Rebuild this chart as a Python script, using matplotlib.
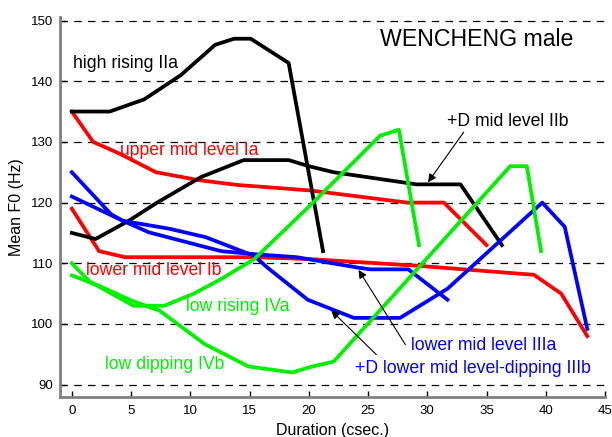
import matplotlib
matplotlib.use("Agg")
import matplotlib.pyplot as plt

plt.rcParams['font.family'] = ['Liberation Sans', 'DejaVu Sans']

# ---- data ----
Ia_x = [0, 1.8, 4.1, 7.1, 10.7, 14.0, 20.1, 28.3, 31.4, 35.0]
Ia_y = [135, 130, 128, 125, 123.7, 122.9, 122, 120, 120, 113]

Ib_x = [0, 2.3, 4.5, 15.4, 20.0, 29.1, 39.0, 41.3, 43.5]
Ib_y = [119, 112, 111, 111, 110.7, 109.6, 108.1, 105, 98]

IIa_x = [0, 3.2, 6.1, 9.2, 12.1, 13.7, 15.1, 18.3, 21.2]
IIa_y = [135, 135, 137, 141, 146, 147, 147, 143, 112]

IIb_x = [0, 2.0, 4.8, 7.2, 10.9, 14.5, 18.3, 20.0, 22.1, 29.1, 32.8, 36.3]
IIb_y = [115, 114, 117, 120, 124.2, 127, 127, 126, 125, 123, 123, 113]

IIIa_x = [0, 3.3, 4.3, 6.5, 12.6, 15.4, 19.0, 24.1, 25.2, 28.4, 31.7]
IIIa_y = [125, 118.1, 117, 115.1, 112, 111.5, 111, 109.3, 109, 109, 104]

IIIb_x = [0, 4.3, 8.2, 11.3, 15.4, 16.5, 19.9, 23.8, 27.7, 31.7, 39.7, 41.6, 43.5]
IIIb_y = [121, 117, 115.7, 114.3, 111.2, 109.3, 104, 101, 101, 105.8, 120, 116, 99.2]

IVa_x = [0, 1.5, 5.2, 7.8, 10.3, 12.6, 15.4, 20.1, 26.0, 27.6, 29.3]
IVa_y = [110, 107, 103, 103, 105, 107.4, 110.7, 119.5, 131, 132, 113]

IVb_x = [0, 2.4, 5.1, 7.4, 11.2, 14.9, 18.6, 20.1, 22.1, 37.0, 38.4, 39.6]
IVb_y = [108, 106.2, 103.8, 102.2, 96.7, 93, 92, 92.9, 93.8, 126, 126, 112]

x_ticks = [0, 5, 10, 15, 20, 25, 30, 35, 40, 45]
y_ticks = [90, 100, 110, 120, 130, 140, 150]

RED = '#ff0000'
GREEN = '#00f000'
BLUE = '#0000ff'
BLACK = '#000000'

fig = plt.figure(figsize=(6.12, 4.37), dpi=100)
ax = fig.add_axes([0.098, 0.092, 0.8906, 0.868])

for y in y_ticks:
    ax.axhline(y, color='black', lw=0.9, dashes=(6, 5), zorder=1)

lw = 2.7
ax.plot(Ia_x, Ia_y, color=RED, lw=lw, zorder=3)
ax.plot(Ib_x, Ib_y, color=RED, lw=lw, zorder=3)
ax.plot(IIa_x, IIa_y, color=BLACK, lw=lw, zorder=3)
ax.plot(IIb_x, IIb_y, color=BLACK, lw=lw, zorder=3)
ax.plot(IIIa_x, IIIa_y, color=BLUE, lw=lw, zorder=3)
ax.plot(IIIb_x, IIIb_y, color=BLUE, lw=lw, zorder=3)
ax.plot(IVa_x, IVa_y, color=GREEN, lw=lw, zorder=3)
ax.plot(IVb_x, IVb_y, color=GREEN, lw=lw, zorder=3)

ax.set_xlim(-1, 45)
ax.set_ylim(88, 150.5)
ax.set_xticks(x_ticks)
ax.set_yticks(y_ticks)
ax.tick_params(direction='in', length=4, width=1, labelsize=9.5, color='black')
ax.tick_params(axis='x', pad=6)
ax.tick_params(axis='y', pad=5)
for s in ['top', 'right']:
    ax.spines[s].set_visible(False)
for s in ['left', 'bottom']:
    ax.spines[s].set_color('#808080')
    ax.spines[s].set_linewidth(2)

ax.set_xlabel('Duration (csec.)', fontsize=11.5, labelpad=4)
ax.set_ylabel('Mean F0 (Hz)', fontsize=11.5, labelpad=5)

fs = 12.7
ax.text(0.1, 142.9, 'high rising IIa', color=BLACK, fontsize=fs, va='center', ha='left')
ax.text(4.1, 128.6, 'upper mid level Ia', color=RED, fontsize=fs, va='center', ha='left')
ax.text(26.0, 146.9, 'WENCHENG male', color=BLACK, fontsize=16.7, va='center', ha='left')
ax.text(31.7, 133.3, '+D mid level IIb', color=BLACK, fontsize=fs, va='center', ha='left')
ax.text(1.2, 108.8, 'lower mid level Ib', color=RED, fontsize=fs, va='center', ha='left')
ax.text(9.6, 102.9, 'low rising IVa', color=GREEN, fontsize=fs, va='center', ha='left')
ax.text(2.8, 93.3, 'low dipping IVb', color=GREEN, fontsize=fs, va='center', ha='left')
ax.text(28.65, 96.4, 'lower mid level IIIa', color=BLUE, fontsize=fs, va='center', ha='left')
ax.text(23.9, 92.7, '+D lower mid level-dipping IIIb', color=BLUE, fontsize=fs, va='center', ha='left')

aprops = dict(arrowstyle='-|>', color='black', lw=0.8, mutation_scale=12, shrinkA=0, shrinkB=0)
ax.annotate('', xy=(30.06, 123.35), xytext=(33.07, 131.6), arrowprops=aprops, zorder=5)
ax.annotate('', xy=(24.2, 108.9), xytext=(28.15, 96.6), arrowprops=aprops, zorder=5)
ax.annotate('', xy=(21.9, 102.2), xytext=(25.7, 94.95), arrowprops=aprops, zorder=5)

fig.savefig('out.png', dpi=100)
